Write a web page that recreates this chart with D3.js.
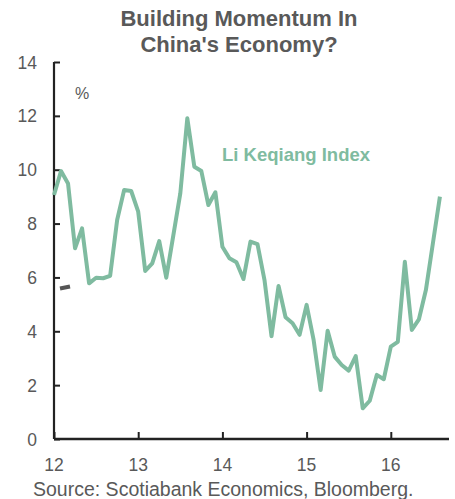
<!DOCTYPE html>
<html>
<head>
<meta charset="utf-8">
<script src="https://cdn.jsdelivr.net/npm/d3@7"></script>
<style>
  html, body { margin: 0; padding: 0; background: #fff; }
  svg { display: block; font-family: "Liberation Sans", Arial, sans-serif; }
</style>
</head>
<body>
<svg id="chart" width="455" height="499"></svg>
<script>
// Li Keqiang Index, monthly, Jan 2012 – Aug 2016 (%)
const startYear = 2012;
const liKeqiang = [
  9.06, 9.95, 9.49, 7.08, 7.82, 5.78, 5.99, 5.97, 6.06, 8.13, 9.25, 9.21,
  8.44, 6.24, 6.52, 7.35, 5.99, 7.55, 9.12, 11.91, 10.11, 9.95, 8.69, 9.16,
  7.14, 6.71, 6.56, 5.94, 7.33, 7.24, 5.90, 3.82, 5.68, 4.52, 4.30, 3.87,
  4.98, 3.68, 1.82, 4.02, 3.06, 2.75, 2.54, 3.08, 1.14, 1.42, 2.38, 2.22,
  3.43, 3.61, 6.58, 4.05, 4.44, 5.53, 7.27, 9.00
];
const yTicks = [0, 2, 4, 6, 8, 10, 12, 14];
const xTicks = [12, 13, 14, 15, 16];
const titleLines = ["Building Momentum In", "China's Economy?"];
const seriesName = "Li Keqiang Index";
const unitLabel = "%";
const sourceText = "Source: Scotiabank Economics, Bloomberg.";

const svg = d3.select("#chart");
const plotLeft = 54, plotRight = 449, plotTop = 62, plotBottom = 439;
const textGray = "#595959";
const lineGreen = "#7fbba0";

// x domain in years since 2000 (12 = 2012)
const x = d3.scaleLinear().domain([12, 12 + (plotRight - plotLeft) / 84.2]).range([plotLeft, plotRight]);
const y = d3.scaleLinear().domain([0, 14]).range([plotBottom, plotTop]);

const dates = liKeqiang.map((v, i) => ({ t: (startYear - 2000) + i / 12, v }));

// Title
svg.append("g").selectAll("text").data(titleLines).join("text")
  .attr("x", 239).attr("y", (d, i) => 26 + i * 26)
  .attr("text-anchor", "middle")
  .attr("font-size", 22).attr("font-weight", "bold")
  .attr("fill", textGray)
  .text(d => d);

// Y axis
const yAxis = d3.axisRight(y).tickValues(yTicks).tickSize(6).tickFormat("");
const gy = svg.append("g").attr("transform", `translate(${plotLeft},0)`).call(yAxis);
gy.select(".domain").attr("d", `M0,${plotTop}V${plotBottom}`).attr("stroke", "#222").attr("stroke-width", 2.2);
gy.selectAll(".tick line").attr("stroke", "#222").attr("stroke-width", 2);
svg.append("g").selectAll("text").data(yTicks).join("text")
  .attr("x", 37).attr("y", d => y(d) + 6.5)
  .attr("text-anchor", "end").attr("font-size", 17.5).attr("fill", textGray)
  .text(d => d);

// X axis
const xAxis = d3.axisTop(x).tickValues(xTicks).tickSize(7).tickFormat("");
const gx = svg.append("g").attr("transform", `translate(0,${plotBottom})`).call(xAxis);
gx.select(".domain").attr("d", `M${plotLeft},0H${plotRight}`).attr("stroke", "#222").attr("stroke-width", 2.4);
gx.selectAll(".tick line").attr("stroke", "#222").attr("stroke-width", 2);
svg.append("g").selectAll("text").data(xTicks).join("text")
  .attr("x", d => x(d)).attr("y", 471)
  .attr("text-anchor", "middle").attr("font-size", 17.5).attr("fill", textGray)
  .text(d => d);

// Unit label
svg.append("text").attr("x", 75).attr("y", 99)
  .attr("font-size", 16).attr("fill", textGray).text(unitLabel);

// Series line
svg.append("path").datum(dates)
  .attr("fill", "none").attr("stroke", lineGreen).attr("stroke-width", 4)
  .attr("stroke-linejoin", "round")
  .attr("d", d3.line().x(d => x(d.t)).y(d => y(d.v)));

// Series label
svg.append("text").attr("x", 222).attr("y", 161)
  .attr("font-size", 18.5).attr("font-weight", "bold").attr("fill", lineGreen)
  .text(seriesName);

// Small dark marker left of the series
svg.append("line").attr("x1", 60).attr("y1", 288.5).attr("x2", 70).attr("y2", 286.5)
  .attr("stroke", "#555").attr("stroke-width", 4);

// Source note
svg.append("text").attr("x", 33).attr("y", 496)
  .attr("font-size", 19.5).attr("fill", textGray).text(sourceText);
</script>
</body>
</html>
